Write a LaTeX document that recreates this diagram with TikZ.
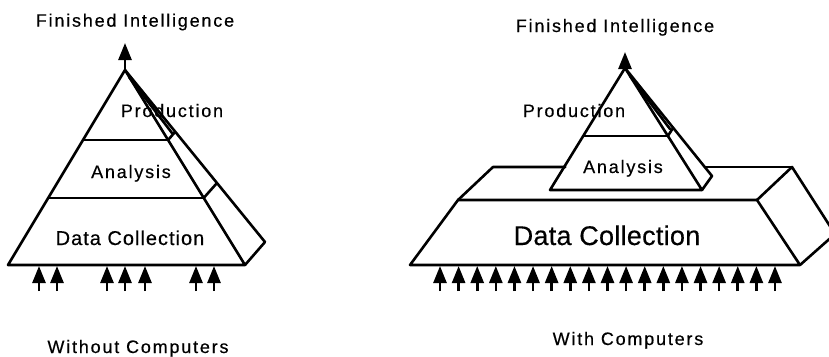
\documentclass[tikz,border=0pt]{standalone}
\usepackage{fontspec}
\setmainfont{Liberation Sans}
\newfontfamily\lblfont[LetterSpace=10,FakeBold=0.4]{Liberation Sans}
\newfontfamily\midfont[LetterSpace=5,FakeBold=0.4]{Liberation Sans}
\newfontfamily\bigfont[LetterSpace=1,FakeBold=0.4]{Liberation Sans}
\usetikzlibrary{arrows.meta,calc}
\begin{document}
\begin{tikzpicture}[x=1pt,y=-1pt,
  edge/.style={line width=2.6pt, line join=round, line cap=round},
  layer/.style={line width=2pt},
  feed/.style={line width=2.6pt, -{Triangle[length=17pt,width=13pt]}},
  lbl/.style={inner sep=0pt, anchor=base, font=\lblfont\fontsize{18}{20}\selectfont},
  midlbl/.style={lbl, font=\midfont\fontsize{20}{22}\selectfont},
  biglbl/.style={lbl, font=\bigfont\fontsize{27}{30}\selectfont}]
\useasboundingbox (0,0) rectangle (829,356);
\clip (0,0) rectangle (829,356);

% ---------- pyramid without computers ----------
\coordinate (LA)  at (125,70);
\coordinate (LBL) at (8,265);
\coordinate (LBR) at (245,265);
\coordinate (LS)  at (265,242);
\coordinate (LT)  at (125,43);
\draw[edge] (LBL) -- (LA) -- (LBR) -- cycle;
\draw[edge] (LA) -- (LS) -- (LBR);
\draw[layer] ($(LA)!0.359!(LBL)$) -- ($(LA)!0.359!(LBR)$);
\draw[layer] ($(LA)!0.656!(LBL)$) -- ($(LA)!0.656!(LBR)$);
% side face ribs
\draw[edge] ($(LA)!0.359!(LBR)$) -- (175,132);
\draw[edge] ($(LA)!0.656!(LBR)$) -- (217,183);
\draw[edge] (129,77) -- (172,133);
\draw[feed] (LA) -- (LT);
\foreach \x in {39,57,107,125,145,196,214}
  \draw[feed] (\x,291) -- (\x,266);

\node[lbl] (fiL) at (135,26.7) {Finished Intelligence};
\node[lbl] (prL) at (172,117) {Production};
\node[lbl] (anL) at (131,178) {Analysis};
\node[midlbl] (dcL) at (130,245) {Data Collection};
\node[lbl] (woL) at (138,353) {Without Computers};

% ---------- slab and pyramid with computers ----------
\coordinate (SBL) at (410,265);
\coordinate (SBR) at (800,265);
\coordinate (STL) at (458,200);
\coordinate (STR) at (757,200);
\coordinate (SKL) at (493,167);
\coordinate (SKR) at (792,167);
\coordinate (SC)  at (835,234);
\draw[edge] (SBL) -- (SBR) -- (STR) -- (STL) -- cycle;
\draw[edge] (STR) -- (SKR) -- (SC) -- (SBR);
\draw[edge] (STL) -- (SKL) -- (565.4,167);
\draw[edge] (704.8,167) -- (SKR);

\coordinate (RA)  at (625,68);
\coordinate (RBL) at (550,190);
\coordinate (RBR) at (702,190);
\coordinate (RS)  at (712,176);
\coordinate (RT)  at (625,52);
\draw[edge] (RBL) -- (RA) -- (RBR) -- cycle;
\draw[edge] (RA) -- (RS) -- (RBR);
\draw[layer] ($(RA)!0.557!(RBL)$) -- ($(RA)!0.557!(RBR)$);
\draw[edge] ($(RA)!0.557!(RBR)$) -- (673,128);
\draw[edge] (630,76) -- (670,129);
\draw[feed] (RA) -- (RT);
\foreach \i in {0,...,18}
  \draw[feed] ({440+\i*18.61},291) -- ({440+\i*18.61},266);

\node[lbl] (fiR) at (615,32) {Finished Intelligence};
\node[lbl] (prR) at (574,117) {Production};
\node[lbl] (anR) at (623,173) {Analysis};
\node[biglbl] (dcR) at (607,245) {Data Collection};
\node[lbl] (wiR) at (628,345) {With Computers};
\end{tikzpicture}
\end{document}
